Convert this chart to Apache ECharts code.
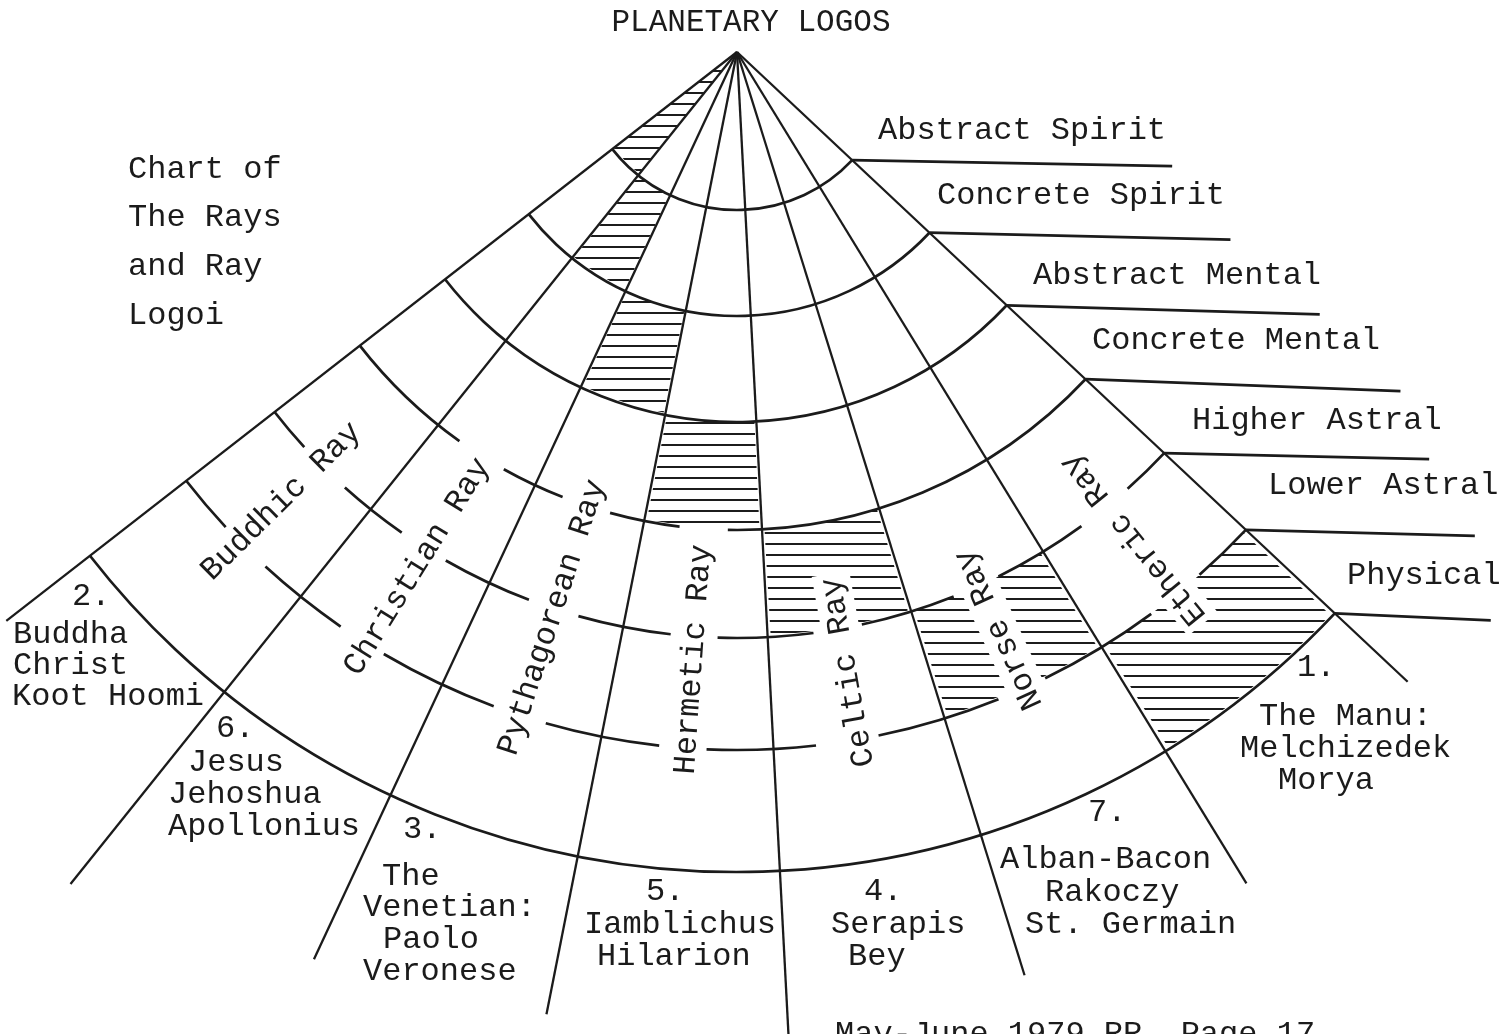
<!DOCTYPE html>
<html><head><meta charset="utf-8">
<script src="https://cdn.jsdelivr.net/npm/echarts@6/dist/echarts.min.js"></script>
<style>html,body{margin:0;padding:0;background:#fff}#c{width:1510px;height:1034px}</style>
</head><body><div id="c"></div>
<script>
// ---------------- DATA ----------------
const title = 'PLANETARY LOGOS';
const chartNote = ['Chart of', 'The Rays', 'and Ray', 'Logoi'];
const footer = 'May-June 1979 RR, Page 17';

// planes (layers), outer radius of each plane measured from the apex
const planes = ['Abstract Spirit', 'Concrete Spirit', 'Abstract Mental', 'Concrete Mental', 'Higher Astral', 'Lower Astral', 'Physical'];
const planeRadii = [158, 264, 370, 478, 586, 698, 820];

// rays (sectors) and the boundary lines between them (angles in degrees, counter-clockwise from east)
const rayNames = ['Buddhic Ray', 'Christian Ray', 'Pythagorean Ray', 'Hermetic Ray', 'Celtic Ray', 'Norse Ray', 'Etheric Ray'];
const boundaryAngles = [217.9, 231.3, 245.0, 258.8, 273.0, 287.3, 301.5, 316.8];
const boundaryLengths = [926, 1066, 1001, 981, 1000, 967, 975, 920];
// plane index that is shaded for each ray
const shadedPlane = [0, 1, 2, 3, 4, 5, 6];

// broken arcs (visible angular pieces) for the lower boundaries of Concrete Mental, Higher Astral, Lower Astral
const concreteMentalArc = [[217.9, 234.5], [240.8, 248.6], [254.6, 263.1], [268.9, 316.8]];
const higherAstralArc = [[217.9, 222.4], [228.0, 235.1], [240.2, 249.2], [254.3, 263.5], [268.1, 277.5], [282.3, 291.7], [296.5, 306.0], [311.8, 316.8]];
const lowerAstralArc = [[217.9, 222.9], [227.5, 235.4], [239.6, 249.6], [254.1, 263.6], [267.5, 276.5], [281.7, 292.0], [296.2, 306.4], [311.5, 316.8]];

// masters at the foot of each ray
const masterNumbers = ['2.', '6.', '3.', '5.', '4.', '7.', '1.'];
const masterNames = [
  ['Buddha', 'Christ', 'Koot Hoomi'],
  ['Jesus', 'Jehoshua', 'Apollonius'],
  ['The', 'Venetian:', 'Paolo', 'Veronese'],
  ['Iamblichus', 'Hilarion'],
  ['Serapis', 'Bey'],
  ['Alban-Bacon', 'Rakoczy', 'St. Germain'],
  ['The Manu:', 'Melchizedek', 'Morya']
];

// ---------------- LAYOUT ----------------
const INK = '#1b1b1b';
const FONT = '32px "Liberation Mono", "DejaVu Sans Mono", monospace';
const APEX = [737, 52];
const planeLineRun = [[320, 6], [301, 7], [313, 9], [315, 12], [265, 6], [229, 6], [156, 7]];
const planeLabelPos = [[878, 131], [937, 196], [1033, 276], [1092, 341], [1192, 421], [1268, 486], [1347, 576]];
const rayLabelRadius = [640, 606, 595, 609, 630, 634, 628];
const masterLayout = [
  { num: [72, 597], x: [13, 13, 12], y: [635, 666, 697] },
  { num: [216, 729], x: [188, 168, 168], y: [763, 795, 827] },
  { num: [403, 830], x: [382, 363, 383, 363], y: [877, 908, 940, 972] },
  { num: [646, 892], x: [584, 597], y: [925, 957] },
  { num: [864, 892], x: [831, 848], y: [925, 957] },
  { num: [1088, 813], x: [1000, 1045, 1025], y: [860, 893, 925] },
  { num: [1297, 668], x: [1259, 1240, 1278], y: [717, 749, 781] }
];

// ---------------- BUILD ----------------
const thA = boundaryAngles[0], thH = boundaryAngles[boundaryAngles.length - 1];

const arcData = [];
[0, 1, 2, 6].forEach(i => arcData.push([planeRadii[i], thA, thH]));
concreteMentalArc.forEach(s => arcData.push([planeRadii[3], s[0], s[1]]));
higherAstralArc.forEach(s => arcData.push([planeRadii[4], s[0], s[1]]));
lowerAstralArc.forEach(s => arcData.push([planeRadii[5], s[0], s[1]]));

const rayData = boundaryAngles.map((a, i) => [boundaryLengths[i], a]);

const hatchData = shadedPlane.map((p, k) => [p === 0 ? 14 : planeRadii[p - 1], boundaryAngles[k] + 0.3, planeRadii[p] - 2, boundaryAngles[k + 1] - 0.3]);

const labelData = rayNames.map((n, k) => [rayLabelRadius[k], (boundaryAngles[k] + boundaryAngles[k + 1]) / 2, k]);

const planeLineData = planeRadii.map((r, i) => [r, thH, i]);

const hatchCanvas = document.createElement('canvas');
hatchCanvas.width = 20; hatchCanvas.height = 11;
const hctx = hatchCanvas.getContext('2d');
hctx.fillStyle = '#1c1c1c';
hctx.fillRect(0, 4, 20, 2);
const hatchFill = { image: hatchCanvas, repeat: 'repeat' };

function angs(api, r, a1, a2) {
  const c = api.coord([0, 0]);
  const p1 = api.coord([r, a1]), p2 = api.coord([r, a2]);
  return {
    c: c,
    R: Math.hypot(p1[0] - c[0], p1[1] - c[1]),
    s1: Math.atan2(p1[1] - c[1], p1[0] - c[0]),
    s2: Math.atan2(p2[1] - c[1], p2[0] - c[0])
  };
}

const graphicEls = [];
function addText(text, x, y, align, font) {
  graphicEls.push({ type: 'text', x: x, y: y, silent: true, z: 10,
    style: { text: text, font: font || FONT, fill: INK, align: align || 'left', verticalAlign: 'middle', textAlign: align || 'left', textVerticalAlign: 'middle' } });
}
addText(title, 751, 23, 'center', '31px "Liberation Mono", "DejaVu Sans Mono", monospace');
chartNote.forEach((t, i) => addText(t, 128, [170, 218, 267, 316][i]));
planes.forEach((p, i) => addText(p, planeLabelPos[i][0], planeLabelPos[i][1]));
masterNumbers.forEach((n, i) => {
  const L = masterLayout[i];
  addText(n, L.num[0], L.num[1]);
  masterNames[i].forEach((t, j) => addText(t, L.x[j], L.y[j]));
});
addText(footer, 835, 1035);

const option = {
  animation: false,
  backgroundColor: '#ffffff',
  polar: { center: APEX, radius: 1100 },
  radiusAxis: { type: 'value', min: 0, max: 1100, show: false },
  angleAxis: { type: 'value', min: 0, max: 360, startAngle: 0, clockwise: false, show: false },
  graphic: { elements: graphicEls },
  series: [
    {
      type: 'custom', coordinateSystem: 'polar', z: 1, silent: true, data: hatchData,
      renderItem: function (params, api) {
        const r0 = api.value(0), a1 = api.value(1), r1 = api.value(2), a2 = api.value(3);
        const g = angs(api, r1, a1, a2);
        const g0 = angs(api, r0, a1, a2);
        return { type: 'sector', shape: { cx: g.c[0], cy: g.c[1], r0: g0.R, r: g.R, startAngle: g.s2, endAngle: g.s1, clockwise: true },
          style: { fill: hatchFill, stroke: 'none' } };
      }
    },
    {
      type: 'custom', coordinateSystem: 'polar', z: 2, silent: true, data: labelData,
      renderItem: function (params, api) {
        const r = api.value(0), a = api.value(1), k = api.value(2);
        const p = api.coord([r, a]);
        return { type: 'text', x: p[0], y: p[1], rotation: (a - 180) * Math.PI / 180,
          style: { text: rayNames[k], font: FONT, fill: INK, align: 'center', verticalAlign: 'middle', backgroundColor: '#ffffff', padding: [3, 4] } };
      }
    },
    {
      type: 'custom', coordinateSystem: 'polar', z: 3, silent: true, data: rayData,
      renderItem: function (params, api) {
        const c = api.coord([0, api.value(1)]);
        const p = api.coord([api.value(0), api.value(1)]);
        return { type: 'line', shape: { x1: c[0], y1: c[1], x2: p[0], y2: p[1] }, style: { stroke: INK, lineWidth: 2.3 } };
      }
    },
    {
      type: 'custom', coordinateSystem: 'polar', z: 3, silent: true, data: arcData,
      renderItem: function (params, api) {
        const g = angs(api, api.value(0), api.value(1), api.value(2));
        return { type: 'arc', shape: { cx: g.c[0], cy: g.c[1], r: g.R, startAngle: g.s2, endAngle: g.s1, clockwise: true },
          style: { stroke: INK, lineWidth: 2.7, fill: 'none' } };
      }
    },
    {
      type: 'custom', coordinateSystem: 'polar', z: 3, silent: true, data: planeLineData,
      renderItem: function (params, api) {
        const p = api.coord([api.value(0), api.value(1)]);
        const run = planeLineRun[api.value(2)];
        return { type: 'line', shape: { x1: p[0], y1: p[1], x2: p[0] + run[0], y2: p[1] + run[1] }, style: { stroke: INK, lineWidth: 2.7 } };
      }
    }
  ]
};
const chart = echarts.init(document.getElementById('c'), null, { renderer: 'canvas', width: 1510, height: 1034 });
chart.setOption(option);
</script>
</body></html>
